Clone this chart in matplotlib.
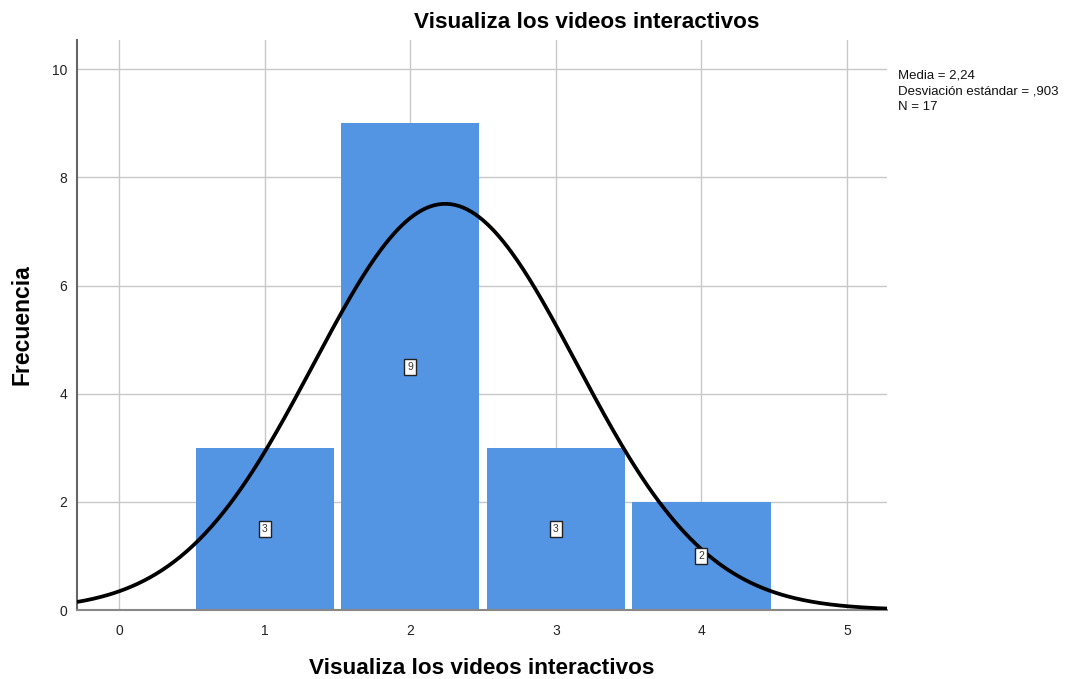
import numpy as np
import matplotlib
matplotlib.use("Agg")
import matplotlib.pyplot as plt

plt.rcParams['font.family'] = ['Liberation Sans', 'DejaVu Sans']

categories = [1, 2, 3, 4]
counts = [3, 9, 3, 2]
mean_val = 2.24
sd_val = 0.903
n_val = 17
xticks = [0, 1, 2, 3, 4, 5]
yticks = [0, 2, 4, 6, 8, 10]

fig = plt.figure(figsize=(10.91, 6.79), dpi=100)
ax = fig.add_axes([77/1091, 69/679, (887-77)/1091, (610-40)/679])

ax.set_xlim(-0.29, 5.275)
ax.set_ylim(0, 10.54)
ax.set_axisbelow(True)
ax.grid(True, color='#c8c8c8', linewidth=1.0)
ax.set_xticks(xticks)
ax.set_yticks(yticks)
ax.tick_params(length=0, labelsize=10, colors='#222222', pad=10)
ax.tick_params(axis='y', pad=7)

ax.bar(categories, counts, width=0.95, color='#5394e3', zorder=2)

xs = np.linspace(-0.29, 5.275, 400)
ys = n_val * 1.0 / (sd_val * np.sqrt(2 * np.pi)) * np.exp(-0.5 * ((xs - mean_val) / sd_val) ** 2)
ax.plot(xs, ys, color='black', linewidth=2.7, zorder=3, solid_capstyle='butt')

for c, v in zip(categories, counts):
    ax.text(c, v / 2, str(v), ha='center', va='center', fontsize=7.5, color='#333333', zorder=4,
            bbox=dict(boxstyle='square,pad=0.3', facecolor='white', edgecolor='#222222', linewidth=1.0))

for s in ['top', 'right']:
    ax.spines[s].set_visible(False)
ax.spines['left'].set_color('#666666')
ax.spines['left'].set_linewidth(1.5)
ax.spines['bottom'].set_color('#888888')
ax.spines['bottom'].set_linewidth(1.5)

fig.text(482/1091, 1 - 668/679, 'Visualiza los videos interactivos', ha='center', va='center',
         fontsize=16.2, fontweight='bold')
fig.text(22/1091, 1 - 325/679, 'Frecuencia', ha='center', va='center', rotation=90,
         fontsize=16.5, fontweight='bold')
fig.text(587/1091, 1 - 22/679, 'Visualiza los videos interactivos', ha='center', va='center',
         fontsize=16.2, fontweight='bold')
fig.text(898/1091, 1 - 70/679, 'Media = 2,24\nDesviación estándar = ,903\nN = 17', ha='left', va='top',
         fontsize=9.5, linespacing=1.4, color='#111111')

fig.savefig('out.png', dpi=100)
